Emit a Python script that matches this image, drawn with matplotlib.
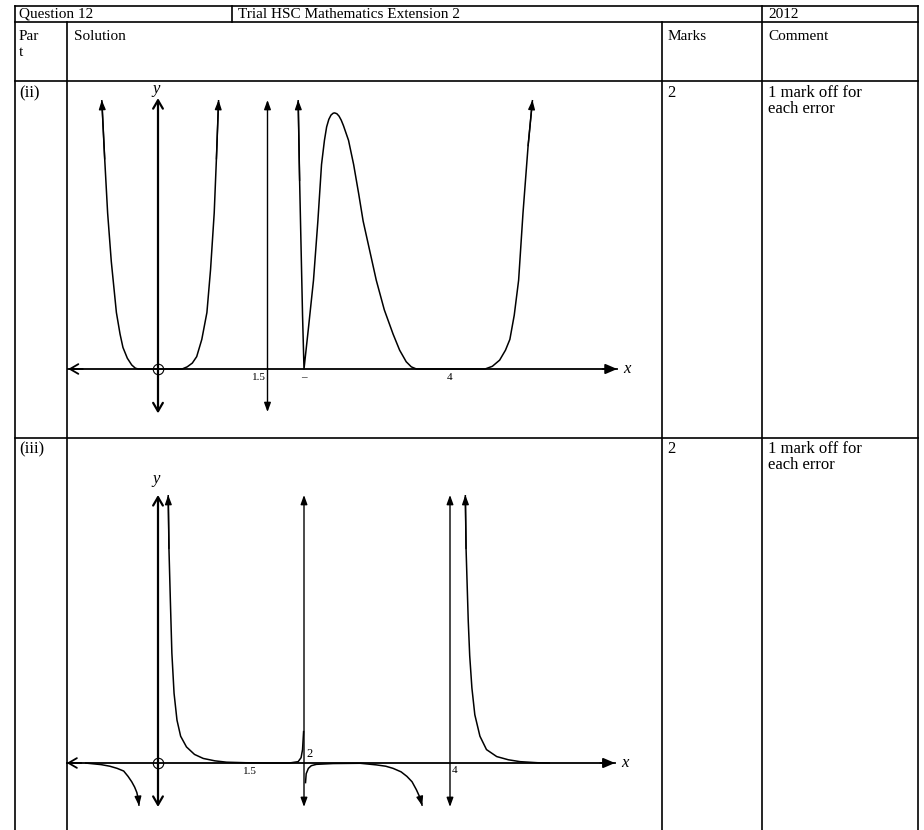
import matplotlib
matplotlib.use("Agg")
import matplotlib.pyplot as plt

# ---- table text ----
header_cells = ["Question 12", "Trial HSC Mathematics Extension 2", "2012"]
column_titles = ["Par", "Solution", "Marks", "Comment"]
column_titles_2nd = ["t"]
parts = ["(ii)", "(iii)"]
marks = ["2", "2"]
comments = [["1 mark off for", "each error"], ["1 mark off for", "each error"]]

# ---- part (ii) curves ----
ii_u_x = [-0.77, -0.73, -0.69, -0.64, -0.57, -0.52, -0.48, -0.42, -0.36, -0.31, -0.27,
          0.33, 0.40, 0.47, 0.53, 0.60, 0.67, 0.72, 0.77, 0.80, 0.83]
ii_u_y = [1.0, 0.78, 0.58, 0.40, 0.21, 0.13, 0.08, 0.04, 0.015, 0.003, 0.0,
          0.0, 0.008, 0.022, 0.046, 0.11, 0.21, 0.37, 0.58, 0.78, 1.0]
ii_w_x = [1.92, 1.94, 1.96, 1.98, 2.0, 2.06, 2.13, 2.19, 2.24, 2.28, 2.31, 2.34, 2.37, 2.40,
          2.42, 2.45, 2.48, 2.51, 2.54, 2.61, 2.68, 2.75, 2.81, 2.90, 2.99, 3.10, 3.22,
          3.31, 3.40, 3.47, 3.54, 4.48, 4.58, 4.68, 4.76, 4.82, 4.88, 4.94, 5.0, 5.07, 5.13]
ii_w_y = [1.0, 0.7, 0.45, 0.2, 0.0, 0.15, 0.33, 0.55, 0.76, 0.85, 0.90, 0.928, 0.944, 0.951,
          0.952, 0.949, 0.94, 0.925, 0.905, 0.85, 0.76, 0.65, 0.55, 0.44, 0.33, 0.22, 0.13,
          0.07, 0.027, 0.008, 0.0, 0.0, 0.01, 0.033, 0.07, 0.11, 0.2, 0.33, 0.58, 0.83, 1.0]
ii_asymptotes = [1.5]
ii_ticks = [(1.5, "1.5"), (2, "2"), (4, "4")]

# ---- part (iii) curves ----
iii_a_x = [-1.0, -0.89, -0.78, -0.66, -0.56, -0.47, -0.41, -0.36, -0.32, -0.29, -0.27, -0.26]
iii_a_y = [0.0, -0.003, -0.006, -0.012, -0.02, -0.03, -0.05, -0.07, -0.09, -0.11, -0.135, -0.16]
iii_b_x = [0.14, 0.15, 0.17, 0.19, 0.22, 0.26, 0.31, 0.39, 0.50, 0.62, 0.78, 0.94,
           1.2, 1.5, 1.8, 1.92, 1.96, 1.98, 1.995]
iii_b_y = [1.0, 0.8, 0.6, 0.41, 0.26, 0.16, 0.10, 0.06, 0.032, 0.017, 0.008, 0.003,
           0.001, 0.0, 0.0, 0.005, 0.02, 0.05, 0.12]
iii_c_x = [2.02, 2.03, 2.06, 2.1, 2.17, 2.4, 2.77, 2.99, 3.12, 3.22, 3.33, 3.41, 3.48,
           3.54, 3.59, 3.62]
iii_c_y = [-0.076, -0.04, -0.02, -0.01, -0.005, -0.002, -0.001, -0.007, -0.012, -0.02,
           -0.033, -0.05, -0.07, -0.10, -0.13, -0.16]
iii_d_x = [4.21, 4.22, 4.25, 4.27, 4.30, 4.34, 4.41, 4.5, 4.64, 4.8, 4.96, 5.2, 5.37]
iii_d_y = [1.0, 0.8, 0.53, 0.4, 0.28, 0.18, 0.10, 0.05, 0.024, 0.012, 0.005, 0.001, 0.0]
iii_asymptotes = [2, 4]

SERIF = "Liberation Serif"
W, H = 924, 830

fig = plt.figure(figsize=(W / 100, H / 100), dpi=100)
fig.patch.set_facecolor("white")

bg = fig.add_axes([0, 0, 1, 1])
bg.set_xlim(0, W)
bg.set_ylim(H, 0)
bg.axis("off")

# table grid (pixel coordinates)
lw_t = 1.2
for y in (6, 22, 81, 438):
    bg.plot([15, 918], [y, y], color="k", lw=lw_t)
for x in (15, 918):
    bg.plot([x, x], [6, H], color="k", lw=lw_t)
bg.plot([232, 232], [6, 22], color="k", lw=lw_t)
bg.plot([762, 762], [6, H], color="k", lw=lw_t)
for x in (67, 662):
    bg.plot([x, x], [22, H], color="k", lw=lw_t)

hkw = dict(family=SERIF, fontsize=11, va="center", ha="left", color="k")
bkw = dict(hkw, fontsize=12)
bg.text(19, 14, header_cells[0], **hkw)
bg.text(238, 14, header_cells[1], **hkw)
bg.text(768, 14, header_cells[2], **hkw)
bg.text(19, 37, column_titles[0], **hkw)
bg.text(19, 52, column_titles_2nd[0], **hkw)
bg.text(74, 37, column_titles[1], **hkw)
bg.text(668, 37, column_titles[2], **hkw)
bg.text(768, 37, column_titles[3], **hkw)
for row_y, part, mk, cm in zip((93, 449), parts, marks, comments):
    bg.text(19, row_y, part, **bkw)
    bg.text(667, row_y, mk, **bkw)
    bg.text(768, row_y, cm[0], **bkw)
    bg.text(768, row_y + 16, cm[1], **bkw)


def graph_axes(x0_px, y0_px, xlim, ylim, ppx=73.0, ppy=269.0):
    left = x0_px + xlim[0] * ppx
    right = x0_px + xlim[1] * ppx
    top = y0_px - ylim[1] * ppy
    bottom = y0_px - ylim[0] * ppy
    ax = fig.add_axes([left / W, 1 - bottom / H, (right - left) / W, (bottom - top) / H])
    ax.set_xlim(*xlim)
    ax.set_ylim(*ylim)
    ax.axis("off")
    ax.patch.set_alpha(0)
    return ax


def arrow(ax, tip, tail, style, lw=0.9, ms=10):
    ax.annotate("", xy=tip, xytext=tail,
                arrowprops=dict(arrowstyle=style, color="k", lw=lw,
                                shrinkA=0, shrinkB=0, mutation_scale=ms))


FILLED = "-|>,head_length=0.55,head_width=0.2"
FILLED2 = "<|-|>,head_length=0.55,head_width=0.2"
OPEN2 = "<->,head_length=0.6,head_width=0.35"
OPEN = "->,head_length=0.6,head_width=0.35"


def draw_axes(ax, x_lo, x_hi, y_lo, y_hi, ylabel_y):
    ax.plot([x_lo, x_hi], [0, 0], color="k", lw=1.3)
    arrow(ax, (x_lo, 0), (x_lo + 0.2, 0), OPEN, lw=1.3)
    arrow(ax, (x_hi, 0), (x_hi - 0.2, 0), "-|>,head_length=0.7,head_width=0.3", lw=1.3)
    arrow(ax, (0, y_hi), (0, y_lo), OPEN2, lw=1.6)
    ax.plot(0, 0, "o", mfc="none", mec="k", ms=7.5, mew=0.8)
    ax.text(x_hi + 0.08, 0, "x", family=SERIF, style="italic", fontsize=12,
            va="center", ha="left")
    ax.text(-0.02, ylabel_y, "y", family=SERIF, style="italic", fontsize=12,
            va="bottom", ha="center")


def curve(ax, xs, ys, head="end"):
    ax.plot(xs, ys, color="k", lw=1.1, solid_capstyle="butt")
    if head in ("end", "both"):
        arrow(ax, (xs[-1], ys[-1]), (xs[-2], ys[-2]), FILLED, lw=1.0)
    if head in ("start", "both"):
        arrow(ax, (xs[0], ys[0]), (xs[1], ys[1]), FILLED, lw=1.0)


small = dict(family=SERIF, fontsize=8, color="k")

# ---- (ii) ----
ax2 = graph_axes(158, 369, (-1.4, 6.6), (-0.2, 1.08))
draw_axes(ax2, -1.23, 6.29, -0.165, 1.007, 1.01)
for xa in ii_asymptotes:
    arrow(ax2, (xa, 1.0), (xa, -0.16), FILLED2, lw=1.0)
curve(ax2, ii_u_x, ii_u_y, head="both")
curve(ax2, ii_w_x, ii_w_y, head="both")
ax2.text(ii_ticks[0][0] - 0.02, -0.015, ii_ticks[0][1], ha="right", va="top", **small)
ax2.text(ii_ticks[1][0], -0.015, "\u2013", ha="center", va="top", **small)
ax2.text(ii_ticks[2][0], -0.015, ii_ticks[2][1], ha="center", va="top", **small)

# ---- (iii) ----
ax3 = graph_axes(158, 763, (-1.4, 6.6), (-0.2, 1.08), ppy=268.0)
draw_axes(ax3, -1.25, 6.26, -0.164, 1.0, 1.03)
for xa in iii_asymptotes:
    arrow(ax3, (xa, 1.0), (xa, -0.164), FILLED2, lw=1.0)
curve(ax3, iii_a_x, iii_a_y, head="end")
curve(ax3, iii_b_x, iii_b_y, head="start")
curve(ax3, iii_c_x, iii_c_y, head="end")
curve(ax3, iii_d_x, iii_d_y, head="start")
ax3.text(1.26, -0.015, "1.5", ha="center", va="top", **small)
ax3.text(2.04, 0.01, "2", ha="left", va="bottom", **dict(small, fontsize=9))
ax3.text(4.03, -0.01, "4", ha="left", va="top", **small)

fig.savefig("out.png", dpi=100, facecolor="white")
